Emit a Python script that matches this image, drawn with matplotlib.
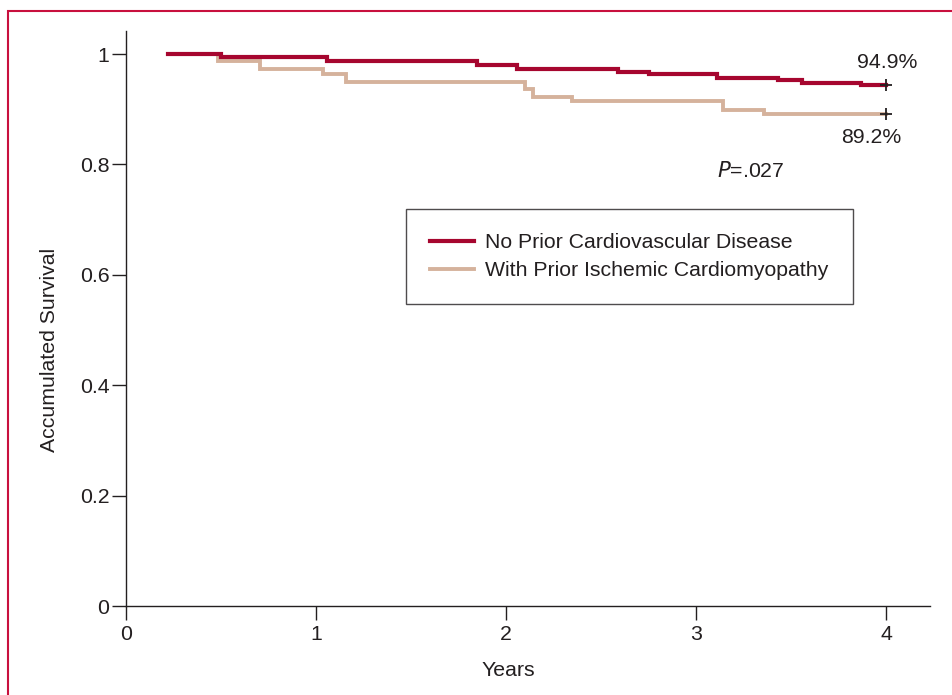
import numpy as np
import matplotlib
matplotlib.use('Agg')
import matplotlib.pyplot as plt
from matplotlib.patches import Rectangle

plt.rcParams['font.family'] = ['Liberation Sans', 'DejaVu Sans']

# Kaplan-Meier steps
t_none = [0.22, 0.50, 1.056, 1.846, 2.06, 2.59, 2.75, 3.11, 3.43, 3.56, 3.87, 4.0]
s_none = [1.0, 0.995, 0.988, 0.980, 0.973, 0.967, 0.964, 0.957, 0.952, 0.947, 0.943, 0.943]
t_isch = [0.22, 0.485, 0.705, 1.035, 1.16, 2.10, 2.14, 2.345, 3.14, 3.36, 4.0]
s_isch = [1.0, 0.988, 0.973, 0.963, 0.949, 0.936, 0.923, 0.915, 0.899, 0.891, 0.891]
labels = ['No Prior Cardiovascular Disease', 'With Prior Ischemic Cardiomyopathy']
end_text = ['94.9%', '89.2%']
xticks = [0, 1, 2, 3, 4]
yticks = [0, 0.2, 0.4, 0.6, 0.8, 1]
ytick_labels = ['0', '0.2', '0.4', '0.6', '0.8', '1']

red = '#A6062F'
tan = '#D5B29C'
txt = '#231F20'
fs = 15.3

fig = plt.figure(figsize=(9.53, 6.95), dpi=100)
ax = fig.add_axes([126/953, 89/695, 804/953, 575/695])

l2, = ax.step(t_isch, s_isch, where='post', color=tan, lw=2.8, solid_joinstyle='miter')
l1, = ax.step(t_none, s_none, where='post', color=red, lw=3.0, solid_joinstyle='miter')
ax.plot([t_none[-1], t_isch[-1]], [s_none[-1], s_isch[-1]], '+', color=txt, ms=9, mew=1.3)

ax.text(4.005, 0.984, end_text[0], fontsize=fs, color=txt, ha='center', va='center')
ax.text(3.925, 0.849, end_text[1], fontsize=fs, color=txt, ha='center', va='center')
ax.text(3.29, 0.788, r'$\it{P}$=.027', fontsize=fs, color=txt, ha='center', va='center')

leg = ax.legend([l1, l2], labels, loc='upper left', bbox_to_anchor=((406-126)/804, (606-209)/575),
                fontsize=fs, frameon=True, fancybox=False, borderpad=1.15, handlelength=2.05,
                handletextpad=0.52, labelspacing=0.4, borderaxespad=0)
leg.get_frame().set_edgecolor(txt)
leg.get_frame().set_linewidth(1.0)
for t in leg.get_texts():
    t.set_color(txt)

ax.set_xlim(0, (930-126)/190)
ax.set_ylim(0, 575/552)
ax.set_xticks(xticks)
ax.set_yticks(yticks)
ax.set_yticklabels(ytick_labels)
ax.tick_params(axis='both', direction='out', length=10, width=1, colors=txt, labelsize=fs)
ax.tick_params(axis='y', pad=2)
ax.tick_params(axis='x', pad=4)
for s in ['top', 'right']:
    ax.spines[s].set_visible(False)
for s in ['left', 'bottom']:
    ax.spines[s].set_color(txt)
    ax.spines[s].set_linewidth(1.0)

ax.set_xlabel('Years', fontsize=fs, color=txt)
ax.set_ylabel('Accumulated Survival', fontsize=fs, color=txt)
ax.xaxis.set_label_coords((508-126)/804, -0.095)
ax.yaxis.set_label_coords(-0.083, 0.445)

fig.add_artist(Rectangle((8.5/953, -0.1), 1.2, (695-10.5)/695 + 0.1, transform=fig.transFigure,
                         fill=False, edgecolor='#C8103E', lw=1.5, clip_on=False))

fig.savefig('out.png', dpi=100)
